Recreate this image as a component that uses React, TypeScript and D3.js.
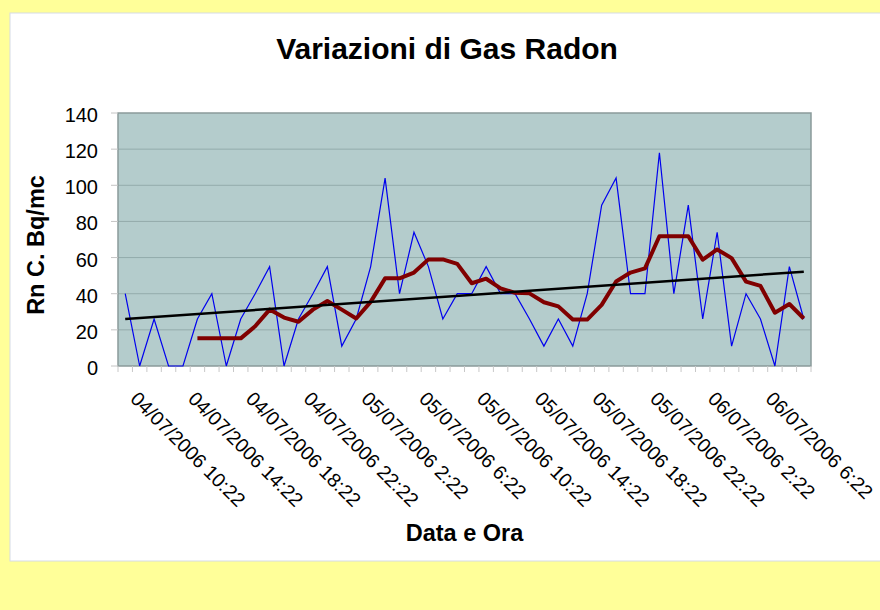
import * as d3 from 'd3';
import React, { useEffect, useRef } from 'react';

// Rn readings, one per hour from 04/07/2006 10:22
const radon = [
  40, 0, 26, 0, 0, 26, 40, 0, 26, 40, 55, 0, 26, 40, 55, 11,
  26, 55, 104, 40, 74, 55, 26, 40, 40, 55, 40, 40, 26, 11, 26, 11,
  40, 89, 104, 40, 40, 118, 40, 89, 26, 74, 11, 40, 26, 0, 55, 26,
];

// moving average line (starts at the 6th reading)
const movingAvg = [
  null, null, null, null, null, 15.3, 15.3, 15.3, 15.3, 22, 31.2, 26.8, 24.5, 31.2, 36, 31.2,
  26.3, 35.5, 48.5, 48.5, 51.7, 59, 59, 56.5, 45.8, 48.3, 43, 40.5, 40.2, 35.3, 33, 25.7,
  25.7, 33.8, 46.8, 51.7, 54, 71.8, 71.8, 71.8, 58.8, 64.5, 59.7, 46.7, 44.3, 29.5, 34.3, 26.3,
];

// linear trend: value at first and last reading
const trend = [26, 52.2];

const tickLabels = [
  '04/07/2006 10:22', '04/07/2006 14:22', '04/07/2006 18:22', '04/07/2006 22:22',
  '05/07/2006 2:22', '05/07/2006 6:22', '05/07/2006 10:22', '05/07/2006 14:22',
  '05/07/2006 18:22', '05/07/2006 22:22', '06/07/2006 2:22', '06/07/2006 6:22',
];

const yTicks = [0, 20, 40, 60, 80, 100, 120, 140];

const FONT = 'Arial, "Liberation Sans", sans-serif';

function App() {
  const myRef = useRef<SVGSVGElement>(null);

  useEffect(() => {
    const svg = d3.select(myRef.current);
    svg.selectAll('*').remove();

    const left = 118, right = 811, top = 113, bottom = 366;

    // background
    svg.append('rect').attr('width', 880).attr('height', 610).attr('fill', '#FFFF99');
    svg.append('rect')
      .attr('x', 10).attr('y', 13).attr('width', 872).attr('height', 548)
      .attr('fill', '#fff').attr('stroke', '#d6dce6').attr('stroke-width', 1);

    svg.append('text')
      .attr('x', 447).attr('y', 59)
      .attr('text-anchor', 'middle')
      .style('font-family', FONT).style('font-weight', 'bold').style('font-size', '30px')
      .text('Variazioni di Gas Radon');

    // scales
    const xScale = d3.scaleBand<number>()
      .domain(radon.map((v, i) => i))
      .range([left, right])
      .padding(0);
    const cx = (i: number) => (xScale(i) as number) + xScale.bandwidth() / 2;

    const yScale = d3.scaleLinear().domain([0, 140]).range([bottom, top]);

    // plot area
    svg.append('rect')
      .attr('x', left).attr('y', top)
      .attr('width', right - left).attr('height', bottom - top)
      .attr('fill', '#B4CCCC');

    svg.selectAll('.grid')
      .data(yTicks.filter(t => t > 0 && t < 140))
      .join('line')
      .attr('class', 'grid')
      .attr('x1', left).attr('x2', right)
      .attr('y1', d => yScale(d)).attr('y2', d => yScale(d))
      .attr('stroke', '#93abab').attr('stroke-width', 1);

    svg.append('rect')
      .attr('x', left).attr('y', top)
      .attr('width', right - left).attr('height', bottom - top)
      .attr('fill', 'none').attr('stroke', '#8a9a9a').attr('stroke-width', 1.5);

    // y axis
    const yAxis = svg.append('g');
    yAxis.selectAll('line')
      .data(yTicks)
      .join('line')
      .attr('x1', left - 7).attr('x2', left)
      .attr('y1', d => yScale(d)).attr('y2', d => yScale(d))
      .attr('stroke', '#c4c4c4');
    yAxis.selectAll('text')
      .data(yTicks)
      .join('text')
      .attr('x', 98).attr('y', d => yScale(d) + 9)
      .attr('text-anchor', 'end')
      .style('font-family', FONT).style('font-size', '20px')
      .text(d => d);

    // x axis ticks at category boundaries
    const bounds = d3.range(radon.length + 1).map(i => left + i * xScale.bandwidth());
    svg.append('g').selectAll('line')
      .data(bounds)
      .join('line')
      .attr('x1', d => d).attr('x2', d => d)
      .attr('y1', bottom).attr('y2', bottom + 6)
      .attr('stroke', '#c8c8c8');

    svg.append('g').selectAll('text')
      .data(tickLabels)
      .join('text')
      .attr('transform', (d, k) => `translate(${cx(k * 4) + 4},400) rotate(45)`)
      .style('font-family', FONT).style('font-size', '19.6px')
      .text(d => d);

    // axis titles
    svg.append('text')
      .attr('transform', 'translate(44,245) rotate(-90)')
      .attr('text-anchor', 'middle')
      .style('font-family', FONT).style('font-weight', 'bold').style('font-size', '23.5px')
      .text('Rn C. Bq/mc');
    svg.append('text')
      .attr('x', 464.5).attr('y', 541)
      .attr('text-anchor', 'middle')
      .style('font-family', FONT).style('font-weight', 'bold').style('font-size', '23.5px')
      .text('Data e Ora');

    // series
    const line = d3.line<number>()
      .x((d, i) => cx(i))
      .y(d => yScale(d));

    svg.append('path')
      .datum(radon)
      .attr('d', line)
      .attr('fill', 'none').attr('stroke', '#0000EE').attr('stroke-width', 1.2);

    const avgLine = d3.line<number | null>()
      .defined(d => d !== null)
      .x((d, i) => cx(i))
      .y(d => yScale(d as number));

    svg.append('path')
      .datum(movingAvg)
      .attr('d', avgLine)
      .attr('fill', 'none').attr('stroke', '#800000').attr('stroke-width', 4)
      .attr('stroke-linejoin', 'round');

    svg.append('line')
      .attr('x1', cx(0)).attr('y1', yScale(trend[0]))
      .attr('x2', cx(radon.length - 1)).attr('y2', yScale(trend[1]))
      .attr('stroke', '#000').attr('stroke-width', 2.5);
  }, []);

  return (
    <svg ref={myRef} width={880} height={610}
      style={{ position: 'absolute', left: 0, top: 0, display: 'block' }} />
  );
}

export default App;
